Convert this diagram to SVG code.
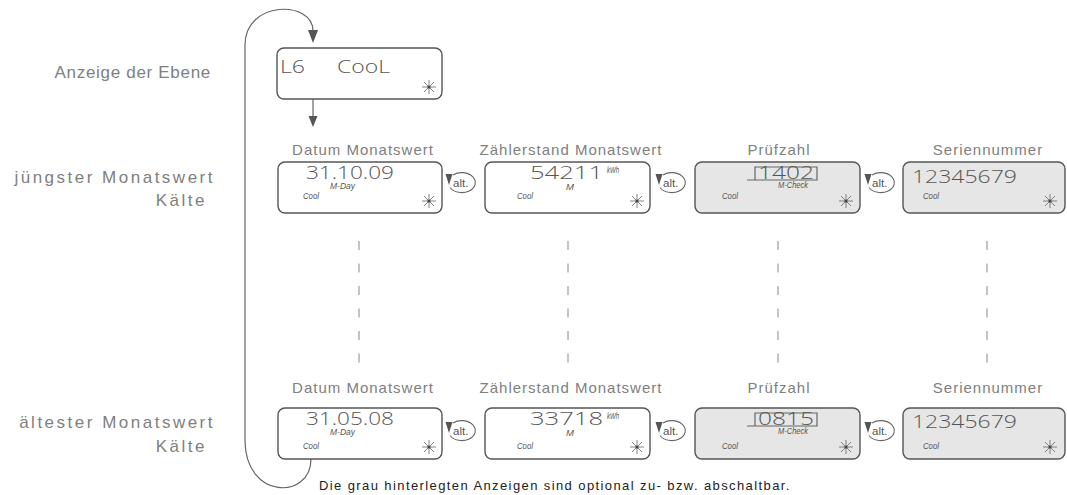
<svg xmlns="http://www.w3.org/2000/svg" width="1067" height="495" viewBox="0 0 1067 495">
  <style>
    .lbl { font-family: "Liberation Sans", Arial, sans-serif; font-size: 15px; fill: #808080; letter-spacing: 1px; }
    .side { font-size: 17px; letter-spacing: 2.5px; }
    .box { fill: #ffffff; stroke: #555555; stroke-width: 1.4; }
    .opt { fill: #e6e6e6; }
    .lcd { font-family: "Open Sans", "Liberation Sans", sans-serif; font-weight: 300; font-size: 18px; fill: #555555; }
    .sm { font-family: "Liberation Sans", Arial, sans-serif; font-style: italic; font-size: 9.5px; fill: #555555; }
    .conn { fill: none; stroke: #666666; stroke-width: 1.2; }
    .dash { stroke: #888888; stroke-width: 1; stroke-dasharray: 9 13.5; }
    .alt { font-family: "Liberation Sans", Arial, sans-serif; font-size: 11.5px; fill: #555555; }
    .head { fill: #555555; }
    .note { font-family: "Liberation Sans", Arial, sans-serif; font-size: 13px; fill: #222222; letter-spacing: 1.4px; }
  </style>
  <defs>
    <!-- blinking indicator of the display -->
    <g id="star" stroke="#666666" stroke-width="0.8">
      <line x1="-7" y1="0" x2="7" y2="0"/>
      <line x1="0" y1="-7" x2="0" y2="7"/>
      <line x1="-5" y1="-5" x2="5" y2="5"/>
      <line x1="-5" y1="5" x2="5" y2="-5"/>
      <circle r="1.6" fill="#444444" stroke="none"/>
    </g>
    <!-- "alt." key loop between two displays -->
    <g id="altkey">
      <path d="M-9,-8 A13.5,10 0 1 1 -12,4.5" fill="none" stroke="#666666" stroke-width="1.1"/>
      <polygon points="-16.5,-9 -9.5,-9 -13,2" fill="#555555"/>
      <text class="alt" x="-9" y="4">alt.</text>
    </g>
  </defs>

  <!-- row titles -->
  <g id="row-titles" class="lbl side" text-anchor="end">
    <text x="211" y="78" letter-spacing="0.7">Anzeige der Ebene</text>
    <text x="215" y="183">jüngster Monatswert</text>
    <text x="207" y="206">Kälte</text>
    <text x="215" y="428">ältester Monatswert</text>
    <text x="207" y="452">Kälte</text>
  </g>

  <!-- column titles -->
  <g id="col-titles" class="lbl" text-anchor="middle">
    <text x="363" y="155">Datum Monatswert</text>
    <text x="571" y="155">Zählerstand Monatswert</text>
    <text x="779" y="155">Prüfzahl</text>
    <text x="988" y="155">Seriennummer</text>
    <text x="363" y="393">Datum Monatswert</text>
    <text x="571" y="393">Zählerstand Monatswert</text>
    <text x="779" y="393">Prüfzahl</text>
    <text x="988" y="393">Seriennummer</text>
  </g>

  <!-- connectors -->
  <g id="connectors">
    <path class="conn" d="M245,440 L245,45 C245,0 313,0 313,31"/>
    <polygon class="head" points="308,30 318,30 313,43"/>
    <path class="conn" d="M245,440 C245,500 311,500 311,459"/>
    <line class="conn" x1="313" y1="99" x2="313" y2="116"/>
    <polygon class="head" points="308.5,116 317.5,116 313,127"/>
    <line class="dash" x1="359" y1="241" x2="359" y2="370"/>
    <line class="dash" x1="568" y1="241" x2="568" y2="370"/>
    <line class="dash" x1="778" y1="241" x2="778" y2="370"/>
    <line class="dash" x1="987" y1="241" x2="987" y2="370"/>
    <use href="#altkey" x="462" y="183"/>
    <use href="#altkey" x="672" y="183"/>
    <use href="#altkey" x="881" y="183"/>
    <use href="#altkey" x="462" y="431"/>
    <use href="#altkey" x="672" y="431"/>
    <use href="#altkey" x="881" y="431"/>
  </g>

  <!-- level display -->
  <g id="level">
    <rect class="box" x="277" y="48" width="165" height="51" rx="7"/>
    <text class="lcd" x="280" y="73" font-size="22" textLength="25" lengthAdjust="spacingAndGlyphs">L6</text>
    <text class="lcd" x="337" y="73" font-size="22" textLength="53" lengthAdjust="spacingAndGlyphs">CooL</text>
    <use href="#star" x="429" y="87"/>
  </g>

  <!-- newest month -->
  <g id="date-new">
    <rect class="box" x="278" y="162" width="164" height="51" rx="7"/>
    <text class="lcd" x="306" y="179" textLength="88" lengthAdjust="spacingAndGlyphs">31.10.09</text>
    <text class="sm" x="330" y="189" textLength="25" lengthAdjust="spacingAndGlyphs">M-Day</text>
    <text class="sm" x="303" y="199" font-size="11" textLength="16" lengthAdjust="spacingAndGlyphs">Cool</text>
    <use href="#star" x="429" y="201"/>
  </g>
  <g id="meter-new">
    <rect class="box" x="485" y="162" width="165" height="51" rx="7"/>
    <text class="lcd" x="530" y="179" textLength="73" lengthAdjust="spacingAndGlyphs">54211</text>
    <text class="sm" x="607" y="173" font-size="9" textLength="12" lengthAdjust="spacingAndGlyphs">kWh</text>
    <text class="sm" x="566" y="190">M</text>
    <text class="sm" x="517" y="199" font-size="11" textLength="16" lengthAdjust="spacingAndGlyphs">Cool</text>
    <use href="#star" x="637" y="201"/>
  </g>
  <g id="check-new">
    <rect class="box opt" x="695" y="162" width="165" height="51" rx="7"/>
    <path class="conn" d="M755,180 L755,167 L817,167 L817,180 L747,180"/>
    <text class="lcd" x="758" y="179" font-size="17" textLength="56" lengthAdjust="spacingAndGlyphs">1402</text>
    <text class="sm" x="778" y="188" textLength="30" lengthAdjust="spacingAndGlyphs">M-Check</text>
    <text class="sm" x="722" y="199" font-size="11" textLength="16" lengthAdjust="spacingAndGlyphs">Cool</text>
    <use href="#star" x="846" y="201"/>
  </g>
  <g id="serial-new">
    <rect class="box opt" x="903" y="162" width="162" height="51" rx="7"/>
    <text class="lcd" x="912" y="183" font-size="20" textLength="105" lengthAdjust="spacingAndGlyphs">12345679</text>
    <text class="sm" x="923" y="199" font-size="11" textLength="16" lengthAdjust="spacingAndGlyphs">Cool</text>
    <use href="#star" x="1050" y="201"/>
  </g>

  <!-- oldest month -->
  <g id="date-old">
    <rect class="box" x="278" y="408" width="164" height="51" rx="7"/>
    <text class="lcd" x="306" y="425" textLength="88" lengthAdjust="spacingAndGlyphs">31.05.08</text>
    <text class="sm" x="330" y="435" textLength="25" lengthAdjust="spacingAndGlyphs">M-Day</text>
    <text class="sm" x="303" y="449" font-size="11" textLength="16" lengthAdjust="spacingAndGlyphs">Cool</text>
    <use href="#star" x="429" y="447"/>
  </g>
  <g id="meter-old">
    <rect class="box" x="485" y="408" width="165" height="51" rx="7"/>
    <text class="lcd" x="530" y="425" textLength="73" lengthAdjust="spacingAndGlyphs">33718</text>
    <text class="sm" x="607" y="419" font-size="9" textLength="12" lengthAdjust="spacingAndGlyphs">kWh</text>
    <text class="sm" x="566" y="436">M</text>
    <text class="sm" x="517" y="449" font-size="11" textLength="16" lengthAdjust="spacingAndGlyphs">Cool</text>
    <use href="#star" x="637" y="447"/>
  </g>
  <g id="check-old">
    <rect class="box opt" x="695" y="408" width="165" height="51" rx="7"/>
    <path class="conn" d="M755,426 L755,413 L817,413 L817,426 L747,426"/>
    <text class="lcd" x="758" y="425" font-size="17" textLength="56" lengthAdjust="spacingAndGlyphs">0815</text>
    <text class="sm" x="778" y="434" textLength="30" lengthAdjust="spacingAndGlyphs">M-Check</text>
    <text class="sm" x="722" y="449" font-size="11" textLength="16" lengthAdjust="spacingAndGlyphs">Cool</text>
    <use href="#star" x="846" y="447"/>
  </g>
  <g id="serial-old">
    <rect class="box opt" x="903" y="408" width="162" height="51" rx="7"/>
    <text class="lcd" x="912" y="428" font-size="20" textLength="105" lengthAdjust="spacingAndGlyphs">12345679</text>
    <text class="sm" x="923" y="449" font-size="11" textLength="16" lengthAdjust="spacingAndGlyphs">Cool</text>
    <use href="#star" x="1050" y="447"/>
  </g>

  <!-- footnote -->
  <g id="footnote">
    <text class="note" x="319" y="490">Die grau hinterlegten Anzeigen sind optional zu- bzw. abschaltbar.</text>
  </g>
</svg>
